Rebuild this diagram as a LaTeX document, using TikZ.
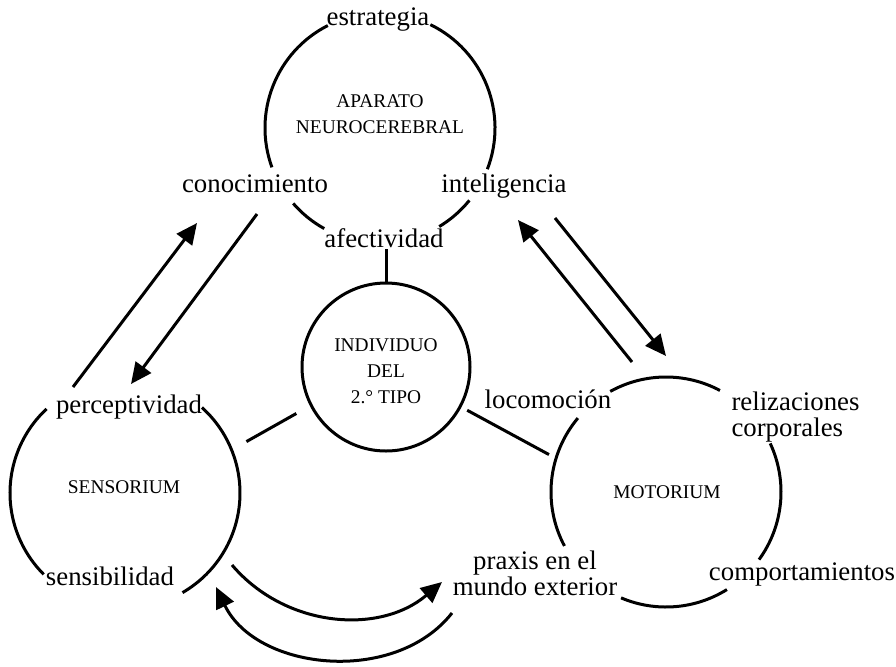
\documentclass[tikz,border=0pt]{standalone}
\usepackage{fontspec}
\setmainfont{Liberation Serif}
\usetikzlibrary{arrows.meta,positioning}

\tikzset{
  ring/.style={circle,minimum size=115pt,inner sep=0pt,outer sep=0pt},
  core/.style={circle,draw,minimum size=84pt,inner sep=0pt,outer sep=0pt},
  lbl/.style={font=\fontsize{13.4}{13}\selectfont,inner sep=0pt,align=center},
  caps/.style={font=\fontsize{9.7}{12.9}\selectfont,inner sep=0pt,align=center},
}

\begin{document}
\begin{tikzpicture}[x=0.5pt,y=-0.5pt,line width=1.5pt,on grid,
    >={Triangle[length=10.5pt,width=9.5pt]}]
    \useasboundingbox (0,0) rectangle (896,666);

    % the three systems round the individual
    \node[core] (ind) at (386,367) {};
    \node[ring] (neuro) [above left=119.5pt and 3pt of ind] {};
    \node[ring] (sens) [below left=63pt and 130.5pt of ind] {};
    \node[ring] (motor) [below right=62.5pt and 140pt of ind] {};

    % broken outlines, gaps left for the labels
    \foreach \c/\a/\b in {neuro/117/200, neuro/221/241, neuro/301/321, neuro/339/424,
                          sens/133/225, sens/300/408,
                          motor/62/119, motor/140/208, motor/247/302, motor/324/385}
      \draw (\c.\a) arc[start angle=\a, end angle=\b, radius=57.5pt];

    \node[caps] (neurotxt) at (380,114) {APARATO\\NEUROCEREBRAL};
    \node[caps] (indtxt) at (386,371) {INDIVIDUO\\DEL\\2.° TIPO};
    \node[caps,anchor=base] (senstxt) at (124,493) {SENSORIUM};
    \node[caps,anchor=base] (motortxt) at (667,498) {MOTORIUM};

    \node[lbl,anchor=base] (estrategia) at (378,25) {estrategia};
    \node[lbl,anchor=base] (conocimiento) at (255,192) {conocimiento};
    \node[lbl,anchor=base] (inteligencia) at (504,192) {inteligencia};
    \node[lbl,anchor=base] (afectividad) at (384,247) {afectividad};
    \node[lbl,anchor=base] (perceptividad) at (129,413) {perceptividad};
    \node[lbl,anchor=base] (sensibilidad) at (110,585) {sensibilidad};
    \node[lbl,anchor=base] (locomocion) at (548,408) {locomoción};
    \node[lbl,align=left,anchor=west] (realizaciones) at (730,417) {relizaciones\\corporales};
    \node[lbl] (praxis) at (535,573) {praxis en el\\mundo exterior};
    \node[lbl,anchor=base] (comportamientos) at (802,580) {comportamientos};

    % arrow ends
    \coordinate (sa) at (73,387);
    \coordinate (na) at (197,223);
    \coordinate (nb) at (257,214);
    \coordinate (sb) at (131,384);
    \coordinate (ma) at (632,362);
    \coordinate (nc) at (518,220);
    \coordinate (nd) at (555,218);
    \coordinate (mb) at (666,356);
    \coordinate (sc) at (232,565);
    \coordinate (pc) at (442,582);
    \coordinate (pd) at (452,613);
    \coordinate (sd) at (216,587);

    \path[->]
    (sa) edge (na)
    (nb) edge (sb)
    (ma) edge (nc)
    (nd) edge (mb)
    (sc) edge [bend right=45] (pc)
    (pd) edge [bend left=58] (sd);

    \path
    (ind.north) edge (ind.north |- afectividad.south)
    (ind.207) edge [shorten <=8.5pt,shorten >=8.5pt] (sens.22)
    (ind.332) edge [shorten <=4pt,shorten >=4pt] (motor.163);
\end{tikzpicture}
\end{document}
